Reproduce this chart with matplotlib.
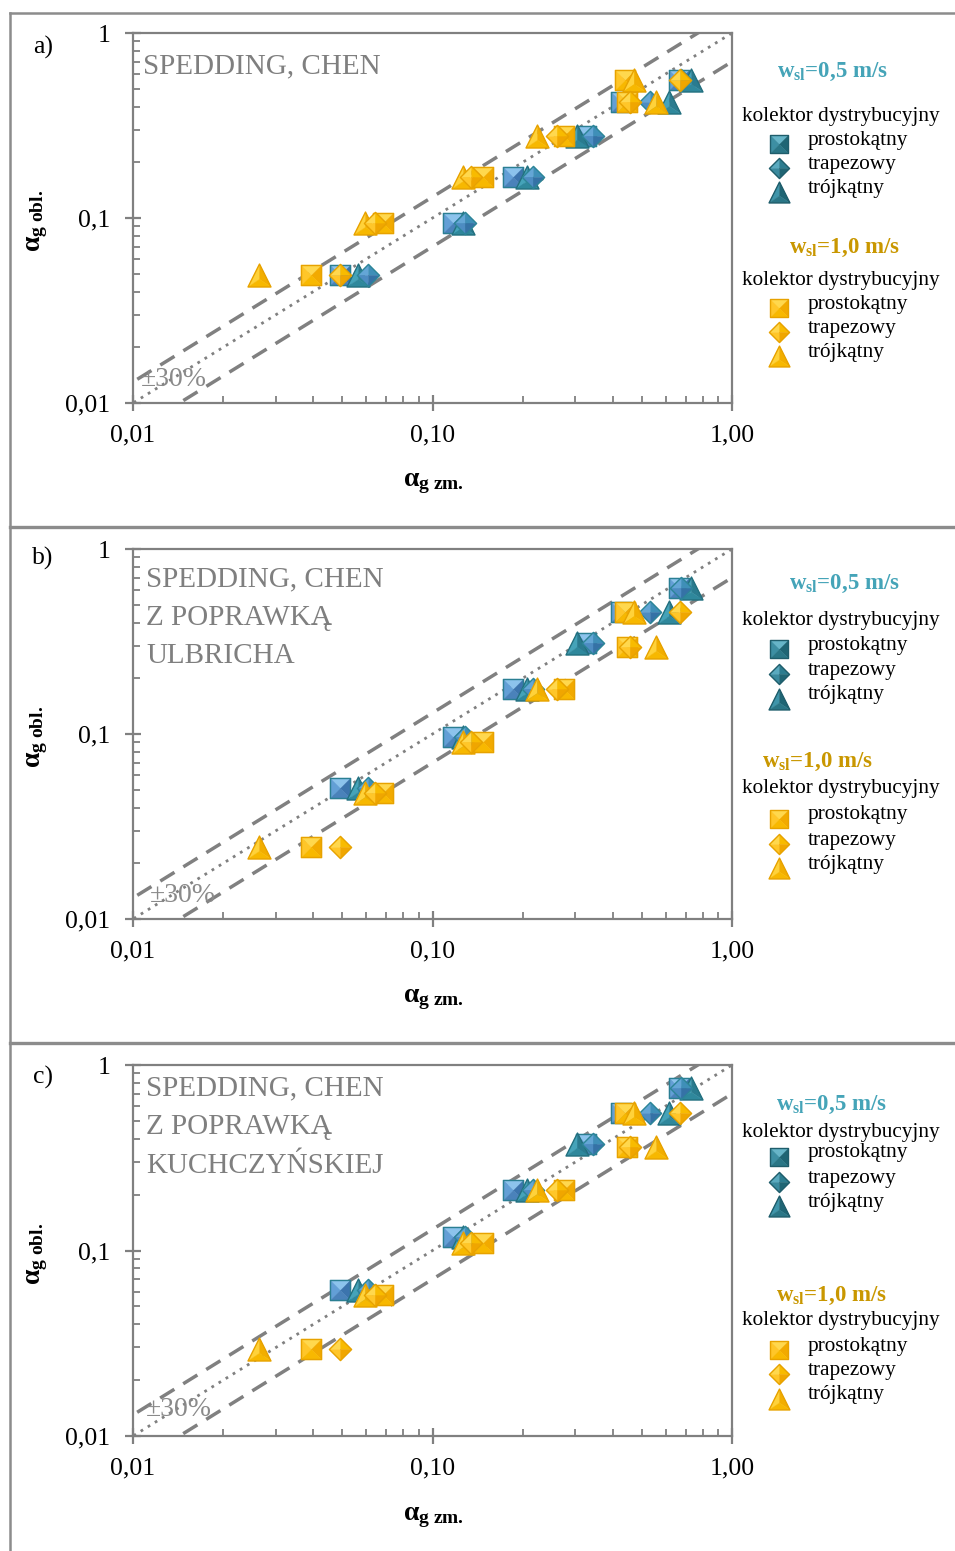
import numpy as np
import matplotlib
matplotlib.use("Agg")
import matplotlib.pyplot as plt
from matplotlib.path import Path
from matplotlib.markers import MarkerStyle
from matplotlib.lines import Line2D

plt.rcParams['font.family'] = ['Liberation Serif', 'DejaVu Serif']
plt.rcParams['mathtext.fontset'] = 'custom'
plt.rcParams['mathtext.rm'] = 'Liberation Serif'
plt.rcParams['mathtext.it'] = 'Liberation Serif:italic'
plt.rcParams['mathtext.bf'] = 'Liberation Serif:bold'

# ---- measured gas void fraction (x axis), same in all three panels ----
x_05_prostokatny = [0.0492, 0.117, 0.186, 0.325, 0.425, 0.665]
x_05_trapezowy = [0.0610, 0.128, 0.216, 0.343, 0.532, 0.676]
x_05_trojkatny = [0.0562, 0.126, 0.207, 0.304, 0.618, 0.728]
x_10_prostokatny = [0.0393, 0.0684, 0.147, 0.275, 0.445, 0.440]
x_10_trapezowy = [0.0492, 0.0644, 0.134, 0.260, 0.458, 0.670]
x_10_trojkatny = [0.0264, 0.0597, 0.126, 0.223, 0.556, 0.472]

# ---- calculated gas void fraction (y axis), per model and liquid velocity ----
y_a_05 = [0.0492, 0.0936, 0.167, 0.277, 0.425, 0.557]
y_a_10 = [0.0492, 0.0936, 0.167, 0.277, 0.425, 0.557]
y_b_05 = [0.0508, 0.0968, 0.175, 0.309, 0.455, 0.613]
y_b_10 = [0.0246, 0.0478, 0.091, 0.175, 0.296, 0.455]
y_c_05 = [0.0616, 0.1186, 0.212, 0.375, 0.553, 0.748]
y_c_10 = [0.0296, 0.0574, 0.110, 0.212, 0.360, 0.550]

panel_letters = ["a)", "b)", "c)"]
panel_titles = [["SPEDDING, CHEN"],
                ["SPEDDING, CHEN", "Z POPRAWKĄ", "ULBRICHA"],
                ["SPEDDING, CHEN", "Z POPRAWKĄ", "KUCHCZYŃSKIEJ"]]
x_tick_vals = [0.01, 0.1, 1.0]
x_tick_labels = ["0,01", "0,10", "1,00"]
y_tick_vals = [0.01, 0.1, 1.0]
y_tick_labels = ["0,01", "0,1", "1"]
band_factors = [1.3, 0.7]
collector_names = ["prostokątny", "trapezowy", "trójkątny"]
legend_header = "kolektor dystrybucyjny"
band_label = "±30%"

W, H = 955, 1551
fig = plt.figure(figsize=(W / 100, H / 100), dpi=100)
fig.patch.set_facecolor('white')


def fx(px):
    return px / W


def fy(py):
    return 1 - py / H


# ---- facetted ("pyramid") marker shapes ----
SQ_FACETS = [[(-1, 1), (1, 1), (0, 0)], [(-1, -1), (-1, 1), (0, 0)],
             [(1, 1), (1, -1), (0, 0)], [(1, -1), (-1, -1), (0, 0)]]
SQ_OUT = [(-1, -1), (1, -1), (1, 1), (-1, 1), (-1, -1)]
DI_FACETS = [[(-1, 0), (0, 1), (0, 0)], [(0, -1), (-1, 0), (0, 0)],
             [(0, 1), (1, 0), (0, 0)], [(1, 0), (0, -1), (0, 0)]]
DI_OUT = [(0, 1), (1, 0), (0, -1), (-1, 0), (0, 1)]
c3 = -1 / 3
TR_FACETS = [[(-1, -1), (0, 1), (0, c3)], [(0, 1), (1, -1), (0, c3)],
             [(1, -1), (-1, -1), (0, c3)]]
TR_OUT = [(-1, -1), (1, -1), (0, 1), (-1, -1)]

SHAPES = {
    's': (SQ_FACETS, SQ_OUT),
    'd': (DI_FACETS, DI_OUT),
    't': (TR_FACETS, TR_OUT),
}


def closed_path(pts):
    pts = list(pts)
    if pts[0] != pts[-1]:
        pts = pts + [pts[0]]
    return Path(pts, closed=True)


# facet shades: (light, mid-light, dark, mid-dark), edge
PAL = {
    ('05', 's'): (['#8cc3ec', '#639fd6', '#3c74ad', '#4a82ba'], '#2b7f92'),
    ('05', 'd'): (['#64a6d6', '#4d8cc2', '#3f8fb8', '#3572a6'], '#2c8597'),
    ('05', 't'): (['#45a3b9', '#2a7b8f', '#2f889c'], '#23707f'),
    ('10', 's'): (['#ffd84e', '#ffc629', '#f2aa00', '#f8b800'], '#e7a200'),
    ('10', 'd'): (['#ffd84e', '#ffc629', '#f8bb00', '#f0a600'], '#e7a200'),
    ('10', 't'): (['#ffd23a', '#f2ae00', '#f7b800'], '#e7a200'),
}
LEG_PAL = {
    ('05', 's'): (['#67b5c8', '#3d8fa3', '#1f6574', '#2a7686'], '#1f5d6b'),
    ('05', 'd'): (['#5aaabf', '#3a8a9e', '#2c7c8f', '#1f6574'], '#1f5d6b'),
    ('05', 't'): (['#3f95aa', '#1f6574', '#2a7686'], '#1f5d6b'),
    ('10', 's'): PAL[('10', 's')],
    ('10', 'd'): PAL[('10', 'd')],
    ('10', 't'): PAL[('10', 't')],
}


def draw_marker(ax_or_fig, xs, ys, shape, shades, edge, size, z, transform=None):
    facets, outline = SHAPES[shape]
    kw = dict(ls='none', markersize=size, zorder=z)
    if transform is not None:
        kw['transform'] = transform
    for pts, col in zip(facets, shades):
        m = MarkerStyle(closed_path(pts))
        line = Line2D(xs, ys, marker=m, markerfacecolor=col,
                      markeredgecolor=col, markeredgewidth=0.3, **kw)
        ax_or_fig.add_artist(line) if transform is not None else ax_or_fig.add_line(line)
    m = MarkerStyle(closed_path(outline))
    line = Line2D(xs, ys, marker=m, markerfacecolor='none',
                  markeredgecolor=edge, markeredgewidth=1.0, **kw)
    ax_or_fig.add_artist(line) if transform is not None else ax_or_fig.add_line(line)


SIZES = {'s': 15.0, 'd': 16.0, 't': 16.5}
LEG_SIZES = {'s': 12.5, 'd': 14.5, 't': 15.0}

panel_y = [[y_a_05, y_a_10], [y_b_05, y_b_10], [y_c_05, y_c_10]]
x_05 = {'s': x_05_prostokatny, 'd': x_05_trapezowy, 't': x_05_trojkatny}
x_10 = {'s': x_10_prostokatny, 'd': x_10_trapezowy, 't': x_10_trojkatny}

# pixel layout of each panel
axes_top = [33, 549, 1065]
axes_bottom = [403, 919, 1436]
ax_left, ax_right = 133, 732
GRAY = '#808080'

legend_rows = [
    dict(t05=(833, 72), k1=116, it1=[140, 164, 188], t10=(845, 248), k2=280, it2=[304, 328, 352]),
    dict(t05=(845, 584), k1=620, it1=[645, 670, 695], t10=(818, 762), k2=788, it2=[815, 840, 864]),
    dict(t05=(832, 1105), k1=1133, it1=[1153, 1178, 1202], t10=(832, 1296), k2=1320, it2=[1346, 1370, 1395]),
]
title_pos = [(143, [66]), (146, [579, 618, 656]), (146, [1088, 1127, 1166])]
band_pos = [(174, 380), (183, 895), (179, 1410)]
letter_pos = [(43, 47), (43, 558), (43, 1077)]

for i in range(3):
    top, bot = axes_top[i], axes_bottom[i]
    ax = fig.add_axes([fx(ax_left), fy(bot), fx(ax_right - ax_left), (bot - top) / H])
    ax.set_xscale('log')
    ax.set_yscale('log')
    ax.set_xlim(0.01, 1)
    ax.set_ylim(0.01, 1)
    ax.set_facecolor('white')
    for sp in ax.spines.values():
        sp.set_color(GRAY)
        sp.set_linewidth(1.6)
    ax.set_xticks(x_tick_vals, x_tick_labels)
    ax.set_yticks(y_tick_vals, y_tick_labels)
    ax.tick_params(which='major', direction='inout', length=11, width=1.6,
                   color=GRAY, labelsize=18.5, labelcolor='black')
    ax.tick_params(axis='x', which='major', pad=10)
    ax.tick_params(axis='y', which='major', pad=11)
    ax.tick_params(which='minor', direction='in', length=5, width=1.3, color=GRAY)
    ax.tick_params(top=False, right=False, which='both')

    # reference lines: y = x and the +/-30 % band
    xl = np.array([0.001, 10.0])
    ax.plot(xl, xl, color=GRAY, lw=2.0, ls=(0, (1, 2)), zorder=2)
    for k in band_factors:
        ax.plot(xl, k * xl, color=GRAY, lw=2.5, ls=(0, (4.8, 3)), zorder=2)

    y05, y10 = panel_y[i]
    z = 5
    for grp, xs_map, ys in (('05', x_05, y05), ('10', x_10, y10)):
        for shp in ('s', 't', 'd'):
            shades, edge = PAL[(grp, shp)]
            draw_marker(ax, xs_map[shp], ys, shp, shades, edge, SIZES[shp], z)
            z += 1

    # panel texts
    tx, tys = title_pos[i]
    for line, ty in zip(panel_titles[i], tys):
        fig.text(fx(tx), fy(ty), line, ha='left', va='center', fontsize=21,
                 color='#7f7f7f')
    bx, by = band_pos[i]
    fig.text(fx(bx), fy(by), band_label, ha='center', va='center', fontsize=20,
             color='#8a8a8a')
    lx, ly = letter_pos[i]
    fig.text(fx(lx), fy(ly), panel_letters[i], ha='center', va='center',
             fontsize=18.5, color='black')

    # axis titles
    fig.text(fx(433), fy(bot + 81), r'$\mathbf{\alpha_{g\ zm.}}$', ha='center',
             va='center', fontsize=20, color='black')
    fig.text(fx(37), fy((top + bot) / 2 + 3), r'$\mathbf{\alpha_{g\ obl.}}$',
             ha='center', va='center', fontsize=20, color='black', rotation=90)

    # legend block
    L = legend_rows[i]
    for grp, tkey, kkey, ikey, col, lbl in (
            ('05', 't05', 'k1', 'it1', '#45a4b8', '0,5'),
            ('10', 't10', 'k2', 'it2', '#c99700', '1,0')):
        tx_, ty_ = L[tkey]
        fig.text(fx(tx_), fy(ty_), r'$\mathbf{w_{sl}}$' + '=' + lbl + ' m/s',
                 ha='center', va='center', fontsize=16.5, fontweight='bold',
                 color=col)
        fig.text(fx(841), fy(L[kkey]), legend_header, ha='center', va='center',
                 fontsize=15.3, color='black')
        for name, shp, iy in zip(collector_names, ('s', 'd', 't'), L[ikey]):
            fig.text(fx(808), fy(iy), name, ha='left', va='center',
                     fontsize=15.3, color='black')
            shades, edge = LEG_PAL[(grp, shp)]
            draw_marker(fig, [fx(779)], [fy(iy + 4)], shp, shades, edge,
                        LEG_SIZES[shp], 10, transform=fig.transFigure)

# chart-area frames
FRAME = '#8c8c8c'
fig.add_artist(Line2D([fx(9.5), fx(9.5)], [fy(12.5), fy(H)], color=FRAME, lw=1.8,
                      transform=fig.transFigure))
fig.add_artist(Line2D([fx(9.5), fx(W)], [fy(12.5), fy(12.5)], color=FRAME, lw=1.8,
                      transform=fig.transFigure))
for sy in (527, 1043):
    fig.add_artist(Line2D([fx(9.5), fx(W)], [fy(sy), fy(sy)], color=FRAME, lw=2.4,
                          transform=fig.transFigure))

fig.savefig("out.png", dpi=100, facecolor='white')
